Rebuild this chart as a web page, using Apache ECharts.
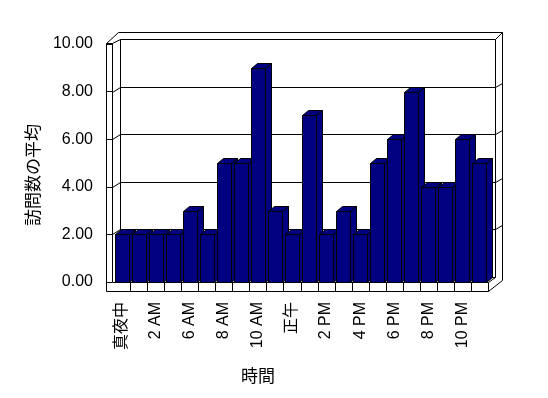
<!DOCTYPE html>
<html><head><meta charset="utf-8">
<script src="https://cdn.jsdelivr.net/npm/echarts@6/dist/echarts.min.js"></script>
<style>html,body{margin:0;padding:0;background:#fff}#c{width:548px;height:398px}</style>
</head><body><div id="c"></div>
<script>
const categories = ['真夜中','1 AM','2 AM','3 AM','6 AM','7 AM','8 AM','9 AM','10 AM','11 AM','正午','1 PM','2 PM','3 PM','4 PM','5 PM','6 PM','7 PM','8 PM','9 PM','10 PM','11 PM'];
const visits = [2,2,2,2,3,2,5,5,9,3,2,7,2,3,2,5,6,8,4,4,6,5];
const gridValues = [2,4,6,8];
const yName = '訪問数の平均';
const xName = '時間';

const FONT = "'Liberation Sans','Noto Sans CJK JP',sans-serif";
const r = v => Math.round(v) + 0.5;
const LS = {stroke:'#000', lineWidth:1, fill:null};
function ln(x1,y1,x2,y2){ return {type:'line', shape:{x1:r(x1),y1:r(y1),x2:r(x2),y2:r(y2)}, style:LS}; }

function renderWalls(params, api){
  const cs = params.coordSys;
  const L = cs.x, R = cs.x + cs.width, T = cs.y, B = cs.y + cs.height;
  const FA = L - 7, WI = L - 1, BX = L + 7, BR = R + 7, BO = R + 14;
  const D = 5, FB = B + 9;
  const band = api.size([1,0])[0];
  const c = [];
  // back wall
  c.push(ln(BX, T-D, BR, T-D));
  c.push(ln(BX-2, T-12, BO, T-12));
  c.push(ln(BR, T-D, BO, T-12));
  c.push(ln(BX, T-D, BX, B-D));
  c.push(ln(BR, T-D, BR, B-D));
  c.push(ln(BO, T-12, BO, B-2));
  c.push(ln(BX, B-D, BR, B-D));
  // gridlines
  gridValues.forEach(v => {
    const yf = api.coord([0, v])[1];
    const yb = yf - D;
    c.push(ln(WI, yf, BX, yb));
    c.push(ln(BX, yb, BR, yb));
    c.push(ln(BR, yb, BO, yb-4));
  });
  // left wall
  c.push(ln(FA, T-1, FA, FB));
  c.push(ln(WI, T-1, WI, B));
  c.push(ln(FA, T-1, WI, T-1));
  c.push(ln(FA, T-1, BX-2, T-12));
  c.push(ln(WI, T-1, BX, T-D));
  // floor
  c.push(ln(WI, B, R, B));
  c.push(ln(FA, FB, R, FB));
  c.push(ln(R, B, R, FB));
  c.push(ln(R, B, BR, B-D));
  c.push(ln(R, FB, BO, B-2));
  for (let k = 1; k < categories.length; k++) {
    const x = L + k * band;
    c.push(ln(x, B, x, FB));
  }
  return {type:'group', children:c};
}

function renderBar(params, api){
  const i = api.value(0), v = api.value(1);
  const top = api.coord([i, v]);
  const bot = api.coord([i, 0]);
  const x1 = Math.round(top[0] - 7) + 0.5, x2 = x1 + 14;
  const y1 = Math.round(top[1]) + 0.5, yb = Math.round(bot[1]) + 0.5;
  const dx = 6, dy = 5;
  const st = {fill:'#000080', stroke:'#000', lineWidth:1};
  return {type:'group', children:[
    {type:'polygon', shape:{points:[[x2,y1],[x2+dx,y1-dy],[x2+dx,yb-dy],[x2,yb]]}, style:st},
    {type:'polygon', shape:{points:[[x1,y1],[x1+dx,y1-dy],[x2+dx,y1-dy],[x2,y1]]}, style:st},
    {type:'rect', shape:{x:x1, y:y1, width:14, height:yb-y1}, style:st}
  ]};
}

const chart = echarts.init(document.getElementById('c'), null, {renderer:'canvas'});
chart.setOption({
  animation:false,
  backgroundColor:'#fff',
  grid:{left:113, top:44, width:375, height:238},
  xAxis:{
    type:'category', data:categories,
    axisLine:{show:false}, axisTick:{show:false}, splitLine:{show:false},
    axisLabel:{rotate:90, interval:1, margin:20, fontSize:16, color:'#000', fontFamily:FONT}
  },
  yAxis:{
    type:'value', min:0, max:10, interval:2, offset:7,
    axisLine:{show:false},
    axisTick:{show:true, inside:true, length:6, lineStyle:{color:'#000', width:1}},
    splitLine:{show:false},
    axisLabel:{margin:13, fontSize:16, color:'#000', fontFamily:FONT, formatter:v => v.toFixed(2)}
  },
  graphic:[
    {type:'text', x:33, y:175, rotation:Math.PI/2, style:{text:yName, fontSize:17, fill:'#000', fontFamily:"'Noto Sans CJK JP',sans-serif", align:'center', verticalAlign:'middle'}},
    {type:'text', x:258, y:376, style:{text:xName, fontSize:17, fill:'#000', fontFamily:"'Noto Sans CJK JP',sans-serif", align:'center', verticalAlign:'middle'}}
  ],
  series:[
    {type:'custom', renderItem:renderWalls, data:[[0,0]], z:1, silent:true},
    {type:'custom', renderItem:renderBar, data:visits.map((v,i)=>[i,v]), encode:{x:0,y:1}, z:2}
  ]
});
</script></body></html>
